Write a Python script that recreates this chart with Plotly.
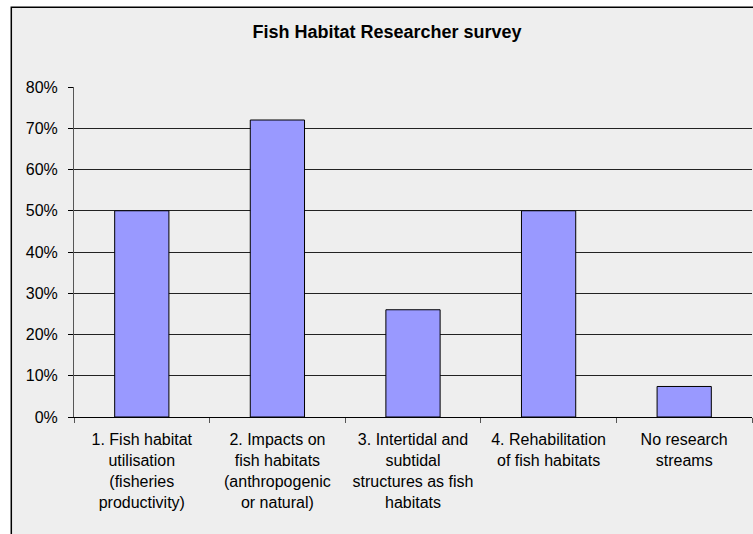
import plotly.graph_objects as go

categories = [
    "1. Fish habitat<br>utilisation<br>(fisheries<br>productivity)",
    "2. Impacts on<br>fish habitats<br>(anthropogenic<br>or natural)",
    "3. Intertidal and<br>subtidal<br>structures as fish<br>habitats",
    "4. Rehabilitation<br>of fish habitats",
    "No research<br>streams",
]
values = [0.50, 0.72, 0.26, 0.50, 0.074]
y_ticks = [0, 0.1, 0.2, 0.3, 0.4, 0.5, 0.6, 0.7, 0.8]

W, H = 753, 534
L, R, T, B = 73.7, W - 751.7, 86.7, H - 416.7
pw, ph = W - L - R, H - T - B

def px2x(p):
    return (p - L) / pw

def py2y(p):
    return (H - B - p) / ph

fig = go.Figure(
    go.Bar(
        x=categories,
        y=values,
        marker=dict(color="#9999FF", line=dict(color="#000000", width=1)),
        width=0.4,
    )
)

fig.update_layout(
    width=W,
    height=H,
    margin=dict(l=L, r=R, t=T, b=B, pad=0, autoexpand=False),
    paper_bgcolor="#FFFFFF",
    plot_bgcolor="rgba(0,0,0,0)",
    font=dict(family="Liberation Sans, Arial, sans-serif", size=16, color="#000000"),
    title=dict(
        text="<b>Fish Habitat Researcher survey</b>",
        x=387 / W,
        xanchor="center",
        y=1 - 32 / H,
        yanchor="middle",
        font=dict(size=18, family="Liberation Sans, Arial, sans-serif"),
    ),
    showlegend=False,
    shapes=[
        dict(
            type="rect",
            xref="paper",
            yref="paper",
            x0=px2x(11),
            x1=px2x(770),
            y0=py2y(560),
            y1=py2y(7),
            fillcolor="#EEEEEE",
            line=dict(color="#000000", width=1.5),
            layer="below",
        )
    ],
)

fig.update_yaxes(
    range=[0, 0.8],
    tickvals=y_ticks,
    tickformat=".0%",
    showgrid=True,
    gridcolor="#222222",
    gridwidth=1,
    showline=True,
    linecolor="#555555",
    linewidth=1,
    ticks="outside",
    ticklen=5,
    tickcolor="#000000",
    tickfont=dict(size=16),
    ticklabelstandoff=7,
    zeroline=False,
    automargin=False,
)
fig.update_xaxes(
    showline=True,
    linecolor="#000000",
    linewidth=1,
    ticks="outside",
    tickson="boundaries",
    ticklen=5,
    tickcolor="#555555",
    tickfont=dict(size=16),
    ticklabelstandoff=8,
    tickangle=0,
    showgrid=False,
    automargin=False,
)

fig.write_html("out.html")
